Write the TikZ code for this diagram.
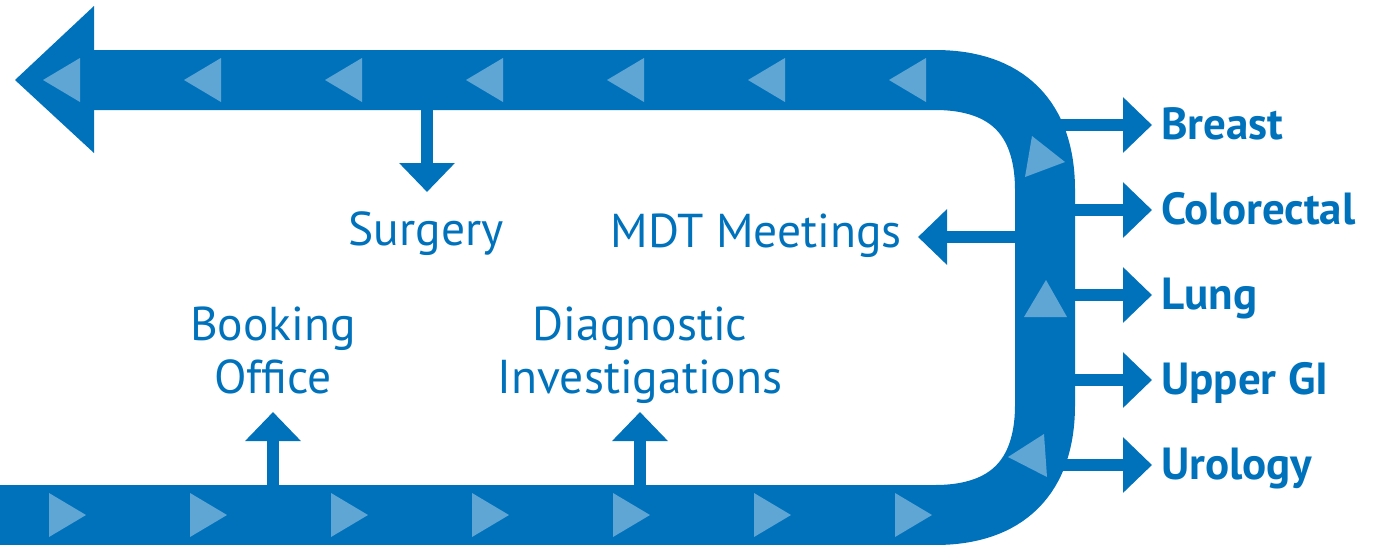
\documentclass[tikz,border=0pt]{standalone}
\usepackage{fontspec}
\setmainfont{PT Sans}
\usetikzlibrary{arrows.meta}
\definecolor{nhsblue}{RGB}{0,114,188}
\definecolor{paleblue}{RGB}{96,166,212}
\tikzset{
  band/.style={draw=nhsblue, line width=60pt},
  chev/.style={fill=paleblue},
  fatarrow/.style={draw=nhsblue, line width=12pt, -{Triangle[width=54pt,length=29pt]}},
  steplab/.style={text=nhsblue, font=\fontsize{47.5}{53}\selectfont, align=center, inner sep=0pt},
  sidelab/.style={text=nhsblue, font=\fontsize{45}{50}\selectfont\bfseries, inner sep=0pt, anchor=base west},
}
\begin{document}
\begin{tikzpicture}[x=1pt, y=-1pt, line join=miter]
	\useasboundingbox (0,0) rectangle (1379,544);
	% tumour sites
	\foreach \name/\y/\txt in {breast/125/Breast, colo/210/Colorectal, lung/295/Lung, ugi/380/Upper GI, uro/465/Urology}{
		\coordinate (\name-s) at (1050,\y);
		\coordinate (\name-e) at (1152,\y);
		\draw[fatarrow] (\name-s)--(\name-e);
		\node[sidelab] (\name) at (1161,\y+14) {\txt};
	}
	% the loop
	\draw[band] (0,515)--(935,515)
		.. controls (1007,515) and (1045,477) .. (1045,405)
		--(1045,190)
		.. controls (1045,118) and (1007,80) .. (935,80)
		--(93,80);
	\fill[nhsblue] (94,6)--(15,80)--(94,153)--cycle;
	% arrows on the band
	\foreach \x in {43,184,...,889}
		\fill[chev] (\x,80)--(\x+37,58)--(\x+37,102)--cycle;
	\foreach \x in {49,190,...,895}
		\fill[chev] (\x,493)--(\x+37,515)--(\x,537)--cycle;
	\fill[chev] (1032,136)--(1025,177)--(1065,162)--cycle;
	\fill[chev] (1046,280)--(1024,317)--(1067,317)--cycle;
	\fill[chev] (1008,457)--(1044,434)--(1047,477)--cycle;
	% steps
	\coordinate (surg-s) at (427,105);
	\coordinate (surg-e) at (427,192);
	\coordinate (book-s) at (273,490);
	\coordinate (book-e) at (273,412);
	\coordinate (diag-s) at (640,490);
	\coordinate (diag-e) at (640,412);
	\coordinate (mdt-s) at (1020,237);
	\coordinate (mdt-e) at (918,237);
	\draw[fatarrow] (surg-s)--(surg-e);
	\draw[fatarrow] (book-s)--(book-e);
	\draw[fatarrow] (diag-s)--(diag-e);
	\draw[fatarrow] (mdt-s)--(mdt-e);
	\node[steplab, anchor=base] (surgery) at (426,245) {Surgery};
	\node[steplab, anchor=base east] (mdt) at (902,247) {MDT Meetings};
	\node[steplab, anchor=base] (booking) at (273,393) {Booking\\Office};
	\node[steplab, anchor=base] (diagnostic) at (640,393) {Diagnostic\\Investigations};
\end{tikzpicture}
\end{document}
